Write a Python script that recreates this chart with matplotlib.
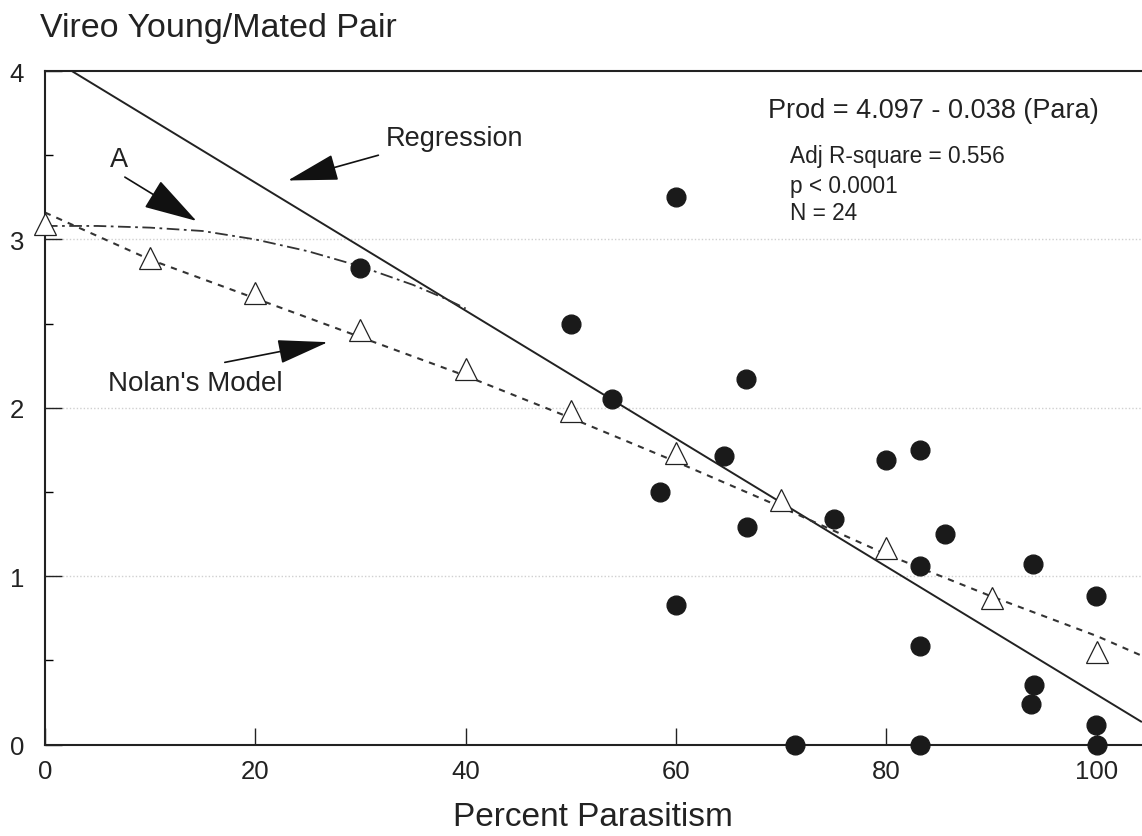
import matplotlib
matplotlib.use("Agg")
import matplotlib.pyplot as plt
import numpy as np

plt.rcParams['font.family'] = ['Liberation Sans', 'DejaVu Sans']

# Observed data (filled circles)
obs_para = [30.0, 50.0, 60.0, 53.9, 66.6, 58.5, 64.6, 66.7, 75.0, 80.0, 83.2, 83.2,
            60.0, 85.6, 93.9, 99.9, 83.2, 71.3, 83.2, 94.0, 93.7, 99.9, 100.0]
obs_prod = [2.83, 2.50, 3.25, 2.05, 2.17, 1.50, 1.715, 1.29, 1.34, 1.69, 1.75, 1.06,
            0.83, 1.25, 1.07, 0.88, 0.585, 0.0, 0.0, 0.356, 0.243, 0.115, 0.0]

# Nolan's model points (open triangles)
model_para = [0, 10, 20, 30, 40, 50, 60, 70, 80, 90, 100]
model_prod = [3.09, 2.89, 2.68, 2.46, 2.23, 1.98, 1.73, 1.45, 1.17, 0.87, 0.55]

# Nolan's model curve (dashed)
nolan_x = [0, 10, 20, 30, 40, 50, 60, 70, 80, 90, 100, 104.2]
nolan_y = [3.16, 2.88, 2.65, 2.42, 2.19, 1.94, 1.68, 1.41, 1.13, 0.88, 0.645, 0.53]

# Curve A (dash-dot)
a_x = [0, 5, 10, 15, 20, 25, 30, 35, 38, 40]
a_y = [3.08, 3.08, 3.07, 3.05, 3.00, 2.93, 2.84, 2.73, 2.65, 2.59]

# Regression: Prod = 4.097 - 0.038 (Para)
reg_intercept = 4.097
reg_slope = -0.038
reg_x = np.array([0.0, 104.2])

xticks = [0, 20, 40, 60, 80, 100]
yticks = [0, 1, 2, 3, 4]

W, H = 1142, 837
fig = plt.figure(figsize=(W / 100, H / 100), dpi=100)
left, right, top, bottom = 44.9, 1142, 72, 745.7
ax = fig.add_axes([left / W, 1 - bottom / H, (right - left) / W, (bottom - top) / H])

xmax = (right - left) / 10.52
ax.set_xlim(0, xmax)
ax.set_ylim(0, 4)

# grid lines
for yv in [1, 2, 3]:
    ax.axhline(yv, color='#d0d0d0', lw=1.0, ls=(0, (1, 1.5)), zorder=0)

# regression line
ax.plot(reg_x, reg_intercept + reg_slope * reg_x, color='#222222', lw=1.4, zorder=2)
# Nolan's dashed curve
ax.plot(nolan_x, nolan_y, color='#333333', lw=1.5, ls=(0, (3, 3)), zorder=2)
# curve A
ax.plot(a_x, a_y, color='#333333', lw=1.3, ls=(0, (7, 2.5, 1.5, 2.5)), zorder=2)

# model triangles
ax.plot(model_para, model_prod, ls='none', marker='^', markersize=15.5,
        markerfacecolor='white', markeredgecolor='#222222', markeredgewidth=0.9, zorder=3,
        clip_on=False)
# observed circles
ax.plot(obs_para, obs_prod, ls='none', marker='o', markersize=13.5,
        markerfacecolor='#1a1a1a', markeredgecolor='#1a1a1a', zorder=4, clip_on=False)

# spines
for s in ['left', 'bottom', 'top']:
    ax.spines[s].set_linewidth(1.5)
    ax.spines[s].set_color('#222222')
ax.spines['right'].set_visible(False)

ax.set_xticks(xticks)
ax.set_yticks(yticks)
ax.set_yticks([0.5, 1.5, 2.5, 3.5], minor=True)
ax.tick_params(axis='x', direction='in', length=12, width=1.0, labelsize=18.5, pad=10,
               colors='#222222')
ax.tick_params(axis='y', direction='in', length=12, width=1.0, labelsize=18.5, pad=15,
               colors='#222222')
ax.tick_params(axis='y', which='minor', direction='in', length=6, width=1.0)
ax.tick_params(top=False, right=False)

# text
fig.text(40 / W, 1 - 29 / H, 'Vireo Young/Mated Pair', fontsize=24.5, color='#222222',
         ha='left', va='center')
fig.text(593 / W, 1 - 818 / H, 'Percent Parasitism', fontsize=24, color='#222222',
         ha='center', va='center')

ax.text(68.7, 3.77, 'Prod = 4.097 - 0.038 (Para)', fontsize=19.5, color='#222222',
        ha='left', va='center')
ax.text(70.8, 3.50, 'Adj R-square = 0.556', fontsize=16.3, color='#222222', ha='left', va='center')
ax.text(70.8, 3.32, 'p < 0.0001', fontsize=16.3, color='#222222', ha='left', va='center')
ax.text(70.8, 3.16, 'N = 24', fontsize=16.3, color='#222222', ha='left', va='center')

# annotations with big filled arrowheads
def big_arrow(tail, tip, hl, hw):
    ax.annotate('', xy=tip, xytext=tail,
                arrowprops=dict(arrowstyle='-|>,head_length=%s,head_width=%s' % (hl, hw),
                                mutation_scale=20, color='#111111', lw=1.2,
                                shrinkA=0, shrinkB=0))

ax.text(32.4, 3.60, 'Regression', fontsize=19.5, color='#222222', ha='left', va='center')
big_arrow((31.7, 3.50), (23.1, 3.35), 1.6, 0.42)

ax.text(7.0, 3.48, 'A', fontsize=19.5, color='#222222', ha='center', va='center')
big_arrow((7.6, 3.37), (14.4, 3.11), 1.7, 0.5)

ax.text(14.3, 2.15, "Nolan's Model", fontsize=20, color='#222222', ha='center', va='center')
big_arrow((17.1, 2.27), (26.9, 2.39), 1.6, 0.38)

fig.savefig('out.png', dpi=100)
